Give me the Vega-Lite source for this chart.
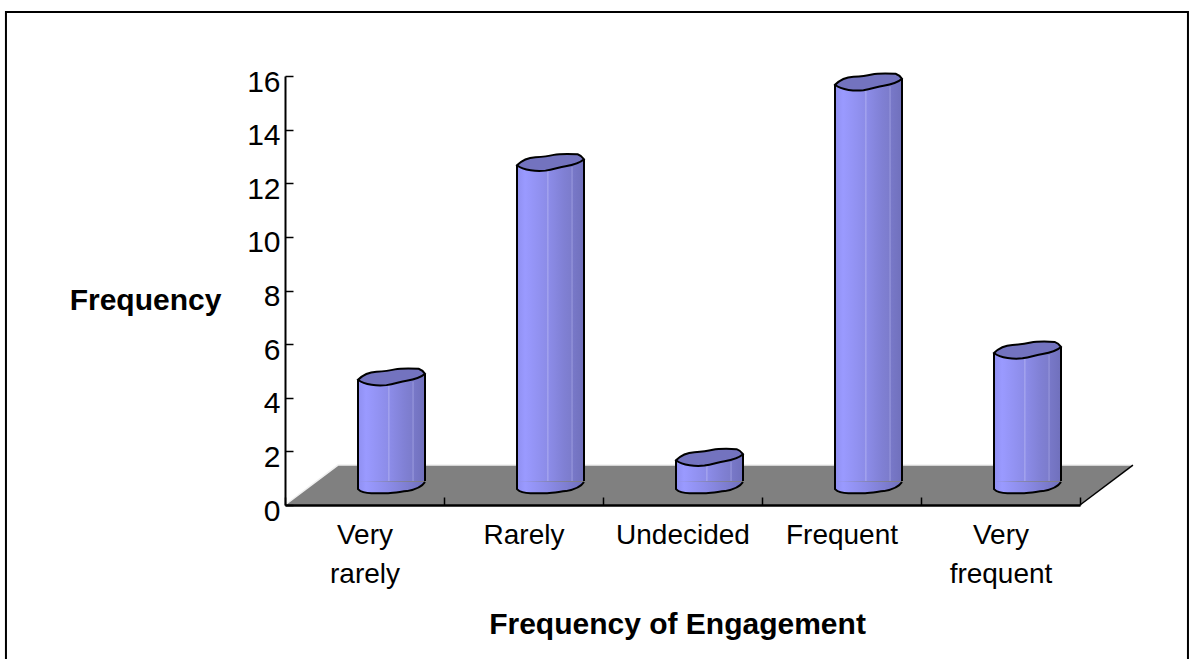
{
  "$schema": "https://vega.github.io/schema/vega-lite/v6.json",
  "width": 795,
  "height": 429,
  "autosize": {"type": "none"},
  "padding": {"left": 285, "top": 76, "right": 112, "bottom": 154},
  "background": "white",
  "config": {"view": {"stroke": null}, "font": "Liberation Sans"},
  "datasets": {
    "bars": [
      {"category": "Very rarely", "value": 4},
      {"category": "Rarely", "value": 12},
      {"category": "Undecided", "value": 1},
      {"category": "Frequent", "value": 15},
      {"category": "Very frequent", "value": 5}
    ],
    "floor": [
      {"depth": 0, "start": 0, "end": 5},
      {"depth": 1.49, "start": 0.333, "end": 5.333}
    ],
    "floorEdges": [
      {"pos": 0, "depth": 0, "seq": 0},
      {"pos": 0.333, "depth": 1.49, "seq": 1},
      {"pos": 5.333, "depth": 1.49, "seq": 2}
    ],
    "floorRight": [
      {"pos": 5, "depth": 0, "seq": 0},
      {"pos": 5.333, "depth": 1.49, "seq": 1}
    ],
    "frame": [
      {"pos": -1.755, "level": -6, "seq": 0},
      {"pos": -1.755, "level": 18.39, "seq": 1},
      {"pos": 5.679, "level": 18.39, "seq": 2},
      {"pos": 5.679, "level": -6, "seq": 3}
    ]
  },
  "resolve": {"scale": {"x": "independent"}},
  "layer": [
    {
      "data": {"name": "frame"},
      "mark": {"type": "line", "color": "black", "strokeWidth": 2, "clip": false},
      "encoding": {
        "x": {"field": "pos", "type": "quantitative", "scale": {"domain": [0, 5], "nice": false, "zero": false}, "axis": null},
        "y": {
          "field": "level",
          "type": "quantitative",
          "scale": {"domain": [0, 16], "nice": false},
          "axis": {
            "zindex": 1,
            "values": [0, 2, 4, 6, 8, 10, 12, 14, 16],
            "title": "Frequency",
            "titleFont": "Liberation Sans",
            "titleFontSize": 30,
            "titleFontWeight": "bold",
            "titleColor": "black",
            "titleAngle": 0,
            "titleX": -140,
            "titleY": 224,
            "titleAlign": "center",
            "titleBaseline": "middle",
            "labelFont": "Liberation Sans",
            "labelFontSize": 30,
            "labelColor": "black",
            "labelPadding": 13,
            "labelOffset": 6,
            "labelOverlap": false,
            "labelBound": false,
            "labelFlush": false,
            "tickSize": -8,
            "tickColor": "black",
            "tickWidth": 1.5,
            "domainColor": "black",
            "domainWidth": 2,
            "grid": false
          }
        },
        "order": {"field": "seq"}
      }
    },
    {
      "data": {"name": "floor"},
      "mark": {"type": "area", "orient": "horizontal", "color": "#808080", "opacity": 1},
      "encoding": {
        "x": {"field": "start", "type": "quantitative", "scale": {"domain": [0, 5], "nice": false, "zero": false}, "axis": null},
        "x2": {"field": "end"},
        "y": {"field": "depth", "type": "quantitative"}
      }
    },
    {
      "data": {"name": "floorEdges"},
      "mark": {"type": "line", "color": "#f0f0f0", "strokeWidth": 1.5},
      "encoding": {
        "x": {"field": "pos", "type": "quantitative", "scale": {"domain": [0, 5], "nice": false, "zero": false}, "axis": null},
        "y": {"field": "depth", "type": "quantitative"},
        "order": {"field": "seq"}
      }
    },
    {
      "data": {"name": "floorRight"},
      "mark": {"type": "line", "color": "black", "strokeWidth": 1.5},
      "encoding": {
        "x": {"field": "pos", "type": "quantitative", "scale": {"domain": [0, 5], "nice": false, "zero": false}, "axis": null},
        "y": {"field": "depth", "type": "quantitative"},
        "order": {"field": "seq"}
      }
    },
    {
      "data": {"name": "bars"},
      "encoding": {
        "x": {
          "field": "category",
          "type": "nominal",
          "sort": null,
          "scale": {"paddingInner": 0, "paddingOuter": 0},
          "axis": {
            "orient": "bottom",
            "zindex": 1,
            "title": "Frequency of Engagement",
            "titleFont": "Liberation Sans",
            "titleFontSize": 30,
            "titleFontWeight": "bold",
            "titleColor": "black",
            "titleX": 392,
            "titleY": 119,
            "titleAlign": "center",
            "titleBaseline": "middle",
            "labelAngle": 0,
            "labelFont": "Liberation Sans",
            "labelFontSize": 28,
            "labelColor": "black",
            "labelPadding": 24,
            "labelLineHeight": 39,
            "labelOverlap": false,
            "labelBound": false,
            "labelFlush": false,
            "labelLimit": 0,
            "labelExpr": "indexof(datum.label,'Very')==0 ? split(datum.label,' ') : datum.label",
            "tickBand": "extent",
            "tickSize": -8,
            "tickColor": "black",
            "tickWidth": 1.5,
            "domainColor": "black",
            "domainWidth": 2.5,
            "grid": false
          }
        },
        "y": {"field": "value", "type": "quantitative"}
      },
      "layer": [
        {
          "mark": {
            "type": "point",
            "shape": "M-1,-0.09 L-1,0.15 C-0.9,0.25 -0.8,0.27 -0.6,0.27 L-0.1,0.27 C0.1,0.27 0.3,0.22 0.46,0.21 C0.7,0.17 0.9,0.1 1,-0.06 Z",
            "size": 4489,
            "filled": true,
            "opacity": 1,
            "strokeWidth": 0,
            "xOffset": 27,
            "fill": {
              "gradient": "linear",
              "x1": 0, "x2": 1, "y1": 0, "y2": 0,
              "stops": [
                {"offset": 0, "color": "#8f8ff0"},
                {"offset": 0.12, "color": "#9a9aff"},
                {"offset": 0.45, "color": "#8c8ce8"},
                {"offset": 0.7, "color": "#8080d4"},
                {"offset": 1, "color": "#7070bc"}
              ]
            }
          },
          "encoding": {"y": {"datum": 0.78}}
        },
        {
          "mark": {
            "type": "point",
            "shape": "M-1,-0.09 L-1,0.15 C-0.9,0.25 -0.8,0.27 -0.6,0.27 L-0.1,0.27 C0.1,0.27 0.3,0.22 0.46,0.21 C0.7,0.17 0.9,0.1 1,-0.06",
            "size": 4489,
            "filled": false,
            "opacity": 1,
            "stroke": "black",
            "strokeWidth": 2,
            "xOffset": 27
          },
          "encoding": {"y": {"datum": 0.78}}
        },
        {
          "mark": {
            "type": "bar",
            "size": 67,
            "xOffset": 27,
            "yOffset": -17,
            "y2Offset": -24,
            "fill": {
              "gradient": "linear",
              "x1": 0, "x2": 1, "y1": 0, "y2": 0,
              "stops": [
                {"offset": 0, "color": "#8f8ff0"},
                {"offset": 0.12, "color": "#9a9aff"},
                {"offset": 0.45, "color": "#8c8ce8"},
                {"offset": 0.46, "color": "#b4b4f2"},
                {"offset": 0.475, "color": "#8c8ce8"},
                {"offset": 0.7, "color": "#8080d4"},
                {"offset": 0.81, "color": "#7c7ccc"},
                {"offset": 0.82, "color": "#a4a4e4"},
                {"offset": 0.835, "color": "#7878c8"},
                {"offset": 1, "color": "#7070bc"}
              ]
            }
          },
          "encoding": {"y2": {"datum": 0}}
        },
        {
          "mark": {
            "type": "point",
            "shape": "M-1,0.09 L1,-0.09 L1,0.14 L-1,0.14 Z",
            "size": 4489,
            "filled": true,
            "opacity": 1,
            "strokeWidth": 0,
            "xOffset": 27,
            "yOffset": -21,
            "fill": {
              "gradient": "linear",
              "x1": 0, "x2": 1, "y1": 0, "y2": 0,
              "stops": [
                {"offset": 0, "color": "#8f8ff0"},
                {"offset": 0.12, "color": "#9a9aff"},
                {"offset": 0.45, "color": "#8c8ce8"},
                {"offset": 0.7, "color": "#8080d4"},
                {"offset": 1, "color": "#7070bc"}
              ]
            }
          }
        },
        {
          "mark": {"type": "rule", "color": "black", "strokeWidth": 2, "xOffset": -6.5, "yOffset": -18, "y2Offset": -24},
          "encoding": {"y2": {"datum": 0}}
        },
        {
          "mark": {"type": "rule", "color": "black", "strokeWidth": 2, "xOffset": 60.5, "yOffset": -24, "y2Offset": -24},
          "encoding": {"y2": {"datum": 0}}
        },
        {
          "mark": {
            "type": "point",
            "shape": "M-1,0.09 C-0.85,-0.06 -0.65,-0.14 -0.45,-0.15 C-0.25,-0.16 -0.1,-0.17 0.1,-0.22 C0.3,-0.26 0.6,-0.25 0.81,-0.24 C0.9,-0.21 0.96,-0.15 1,-0.09 C0.9,0 0.7,0.08 0.45,0.12 C0.25,0.15 0.1,0.21 -0.15,0.25 C-0.4,0.28 -0.8,0.25 -1,0.09 Z",
            "size": 4489,
            "filled": true,
            "opacity": 1,
            "fill": "#7373bf",
            "stroke": "black",
            "strokeWidth": 2,
            "xOffset": 27,
            "yOffset": -21
          }
        }
      ]
    }
  ]
}
